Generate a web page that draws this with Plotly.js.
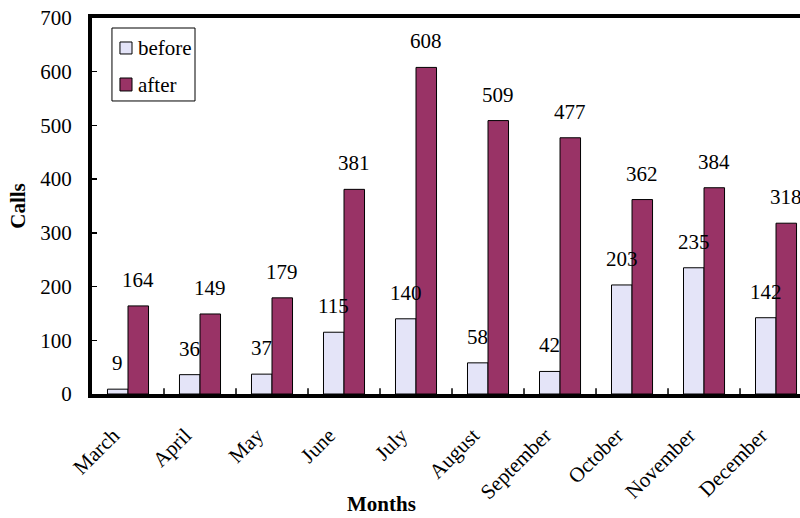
<!DOCTYPE html>
<html>
<head>
<meta charset="utf-8">
<script src="https://cdn.plot.ly/plotly-3.0.1.min.js"></script>
<style>html,body{margin:0;padding:0;background:#fff;}#chart{width:800px;height:518px;}</style>
</head>
<body>
<div id="chart"></div>
<script>
var months = ["March","April","May","June","July","August","September","October","November","December"];
var before = [9, 36, 37, 115, 140, 58, 42, 203, 235, 142];
var after = [164, 149, 179, 381, 608, 509, 477, 362, 384, 318];
var seriesNames = ["before", "after"];
var seriesColors = ["#E4E4F8", "#993366"];

var FONT = "'Liberation Serif', 'Times New Roman', serif";
var idx = months.map(function(m, i){ return i; });

var traces = [
  {type: "bar", name: seriesNames[0], x: idx, y: before,
   marker: {color: seriesColors[0], line: {color: "#000", width: 1}}},
  {type: "bar", name: seriesNames[1], x: idx, y: after,
   marker: {color: seriesColors[1], line: {color: "#000", width: 1}}}
];

var off = 0.1425;
var annotations = [];
before.forEach(function(v, i){
  annotations.push({x: i - off, y: v, xref: "x", yref: "y", text: String(v), showarrow: false,
    yanchor: "bottom", yshift: 12, font: {family: FONT, size: 21, color: "#000"}});
});
after.forEach(function(v, i){
  annotations.push({x: i + off, y: v, xref: "x", yref: "y", text: String(v), showarrow: false,
    yanchor: "bottom", yshift: 12, font: {family: FONT, size: 21, color: "#000"}});
});

// x-axis title placed like the original
annotations.push({x: 0.4096, y: -0.293, xref: "paper", yref: "paper", text: "<b>Months</b>",
  showarrow: false, xanchor: "center", yanchor: "middle", font: {family: FONT, size: 21, color: "#000"}});

// legend box (drawn to match original compact legend)
var shapes = [];
shapes.push({type: "rect", xref: "paper", yref: "paper", x0: 0.0282, x1: 0.1455, y0: 0.7793, y1: 0.9734,
  line: {color: "#000", width: 1}, fillcolor: "#fff", layer: "above"});
var legY = [[0.9043, 0.9362, 0.920], [0.8059, 0.8404, 0.8218]];
seriesNames.forEach(function(n, k){
  shapes.push({type: "rect", xref: "paper", yref: "paper", x0: 0.0395, x1: 0.0565, y0: legY[k][0], y1: legY[k][1],
    line: {color: "#000", width: 1}, fillcolor: seriesColors[k], layer: "above"});
  annotations.push({x: 0.0615, y: legY[k][2], xref: "paper", yref: "paper", text: n, showarrow: false,
    xanchor: "left", yanchor: "middle", font: {family: FONT, size: 21, color: "#000"}});
});

idx.slice(1).forEach(function(i){
  shapes.push({type: "line", xref: "x", yref: "paper", x0: i - 0.5, x1: i - 0.5, y0: 0, y1: 0.015,
    line: {color: "#000", width: 1.5}});
});

var NB = "\u00a0\u00a0\u00a0\u00a0";
var layout = {
  width: 800, height: 518,
  margin: {l: 92, r: 0, t: 18, b: 124, pad: 0},
  paper_bgcolor: "#fff", plot_bgcolor: "#fff",
  font: {family: FONT, size: 20, color: "#000"},
  barmode: "group", bargap: 0.43, bargroupgap: 0,
  showlegend: false,
  xaxis: {
    type: "linear", range: [-0.5, 9.333],
    tickmode: "array", tickvals: idx, ticktext: months.map(function(m){ return m + NB; }),
    tickangle: -45, ticks: "", showgrid: false, zeroline: false,
    showline: true, linecolor: "#000", linewidth: 4, mirror: true,
    tickfont: {family: FONT, size: 21, color: "#000"},
    ticklabelstandoff: 2
  },
  yaxis: {
    range: [0, 700], dtick: 100, tick0: 0,
    ticks: "inside", ticklen: 5, tickwidth: 1.5, tickcolor: "#000",
    showgrid: false, zeroline: false,
    showline: true, linecolor: "#000", linewidth: 4,
    tickfont: {family: FONT, size: 21, color: "#000"},
    ticklabelstandoff: 12,
    title: {text: "<b>Calls</b>", font: {family: FONT, size: 21, color: "#000"}, standoff: 10}
  },
  shapes: shapes,
  annotations: annotations
};

Plotly.newPlot("chart", traces, layout, {displayModeBar: false, staticPlot: true});
</script>
</body>
</html>
